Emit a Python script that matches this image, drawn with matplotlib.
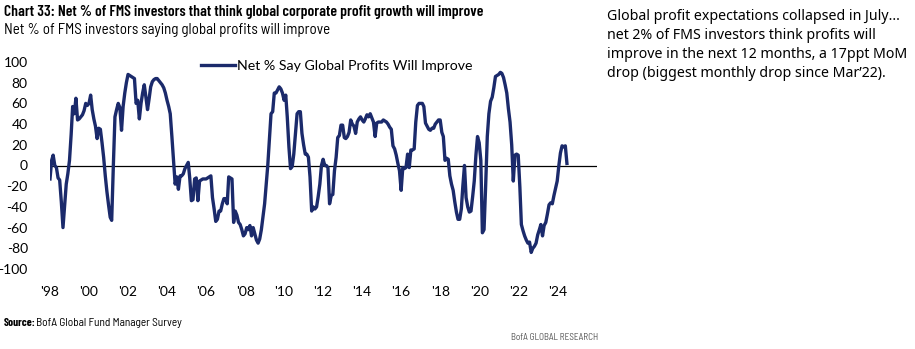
import matplotlib
matplotlib.use("Agg")
import matplotlib.pyplot as plt
import pandas as pd

# monthly net % saying global profits will improve, Jan 1998 - Jul 2024
v1998 = [-13, 5, 10, 0, -2, -12, -14, -35, -60, -40, -18, -8]
v1999 = [5, 30, 57, 50, 65, 44, 45, 47, 49, 53, 60, 58]
v2000 = [60, 68, 54, 45, 38, 26, 36, 35, 22, 8, -10, -25]
v2001 = [-38, -50, -53, 0, 47, 54, 60, 56, 34, 57, 70, 80]
v2002 = [88, 87, 86, 85, 84, 60, 63, 45, 60, 70, 78, 66]
v2003 = [54, 65, 76, 81, 83, 84, 84, 82, 80, 78, 75, 70]
v2004 = [63, 57, 50, 28, 5, -18, -11, -23, -10, -10, -8, -3]
v2005 = [0, 3, -12, -34, -33, -13, -12, -34, -15, -14, -13, -13]
v2006 = [-13, -12, -11, -10, -31, -42, -54, -52, -44, -44, -37, -32]
v2007 = [-32, -37, -11, -12, -13, -55, -44, -48, -55, -57, -62, -68]
v2008 = [-66, -60, -62, -58, -68, -60, -66, -72, -75, -71, -62, -50]
v2009 = [-37, -18, 0, 26, 50, 52, 70, 70, 73, 76, 74, 70]
v2010 = [63, 68, 47, 18, -3, -1, 11, 31, 50, 52, 52, 31]
v2011 = [20, 11, 11, 8, -11, -44, -40, -42, -40, -30, -18, 0]
v2012 = [6, 0, 0, -2, -37, -29, -28, -5, 8, 27, 29, 39]
v2013 = [39, 27, 26, 28, 32, 44, 40, 38, 31, 42, 45, 47]
v2014 = [44, 42, 45, 49, 47, 50, 46, 42, 28, 41, 42, 42]
v2015 = [42, 44, 43, 42, 40, 37, 35, 19, 16, 10, 2, -5]
v2016 = [-24, -2, -3, -2, 11, -2, 15, 15, 16, 42, 58, 60]
v2017 = [60, 60, 57, 41, 38, 35, 34, 36, 36, 40, 42, 44]
v2018 = [44, 32, 28, 5, 7, 6, -10, -18, -24, -35, -45, -52]
v2019 = [-52, -42, -20, 0, -31, -40, -45, -44, -30, -15, 10, 28]
v2020 = [22, 5, -65, -62, -20, 28, 50, 62, 66, 75, 86, 87]
v2021 = [88, 90, 89, 85, 78, 70, 55, 42, 20, -15, 10, 11]
v2022 = [10, -21, -57, -63, -68, -72, -75, -74, -84, -80, -78, -75]
v2023 = [-67, -62, -57, -68, -58, -55, -47, -38, -36, -37, -29, -22]
v2024 = [-15, 0, 12, 19, 18, 19, 2]

values = (v1998 + v1999 + v2000 + v2001 + v2002 + v2003 + v2004 + v2005 + v2006
          + v2007 + v2008 + v2009 + v2010 + v2011 + v2012 + v2013 + v2014 + v2015
          + v2016 + v2017 + v2018 + v2019 + v2020 + v2021 + v2022 + v2023 + v2024)
dates = pd.date_range("1998-01-01", periods=len(values), freq="MS")

tick_years = list(range(1998, 2025, 2))
tick_labels = ["'%02d" % (y % 100) for y in tick_years]
y_ticks = list(range(-100, 101, 20))

navy = "#1b2a6b"
axis_font = "Lato"
cond_font = "Barlow Semi Condensed"
title_font = "Barlow Condensed"

fig = plt.figure(figsize=(9.15, 3.49), dpi=100)
ax = fig.add_axes([50 / 915, 1 - 269 / 349, 547 / 915, 207 / 349])

ax.plot(dates, values, color=navy, lw=2.4, solid_joinstyle="round",
        label="Net % Say Global Profits Will Improve")
ax.axhline(0, color="black", lw=0.9, zorder=1)

ax.set_ylim(-100, 100)
ax.set_xlim(pd.Timestamp("1998-01-01"), pd.Timestamp("2026-01-15"))
ax.set_yticks(y_ticks)
ax.set_yticklabels([str(t) for t in y_ticks], fontfamily=axis_font, fontsize=10)
ax.set_xticks([pd.Timestamp("%d-01-01" % y) for y in tick_years])
ax.set_xticklabels(tick_labels, fontfamily=axis_font, fontsize=10)
ax.tick_params(axis="both", length=0)
ax.tick_params(axis="y", pad=16)
ax.tick_params(axis="x", pad=12)
for s in ax.spines.values():
    s.set_visible(False)

ax.legend(loc="center left", bbox_to_anchor=(144 / 547, 0.98), frameon=False,
          prop={"family": axis_font, "size": 10.2}, handlelength=2.4,
          handletextpad=0.15, borderpad=0)

fig.text(4 / 915, 1 - 12 / 349, "Chart 33: Net % of FMS investors that think global corporate profit growth will improve",
         fontfamily=title_font, fontweight=600, fontsize=11.2, va="center", ha="left")
fig.text(4 / 915, 1 - 30 / 349, "Net % of FMS investors saying global profits will improve",
         fontfamily=cond_font, fontsize=10.8, va="center", ha="left")

fig.text(4 / 915, 1 - 323 / 349, "Source:", fontfamily=title_font, fontweight="bold",
         fontsize=8.2, va="center", ha="left")
fig.text(36 / 915, 1 - 323 / 349, "BofA Global Fund Manager Survey",
         fontfamily=cond_font, fontsize=8.2, va="center", ha="left")
fig.text(598 / 915, 1 - 338 / 349, "BofA GLOBAL RESEARCH", fontfamily=cond_font,
         fontsize=6.6, color="#555555", va="center", ha="right")

side = ("Global profit expectations collapsed in July\u2026\n"
        "net 2% of FMS investors think profits will\n"
        "improve in the next 12 months, a 17ppt MoM\n"
        "drop (biggest monthly drop since Mar\u201922).")
fig.text(607 / 915, 1 - 9 / 349, side, fontfamily="Noto Sans", fontsize=10.2,
         va="top", ha="left", linespacing=1.35)

fig.savefig("out.png", dpi=100)
